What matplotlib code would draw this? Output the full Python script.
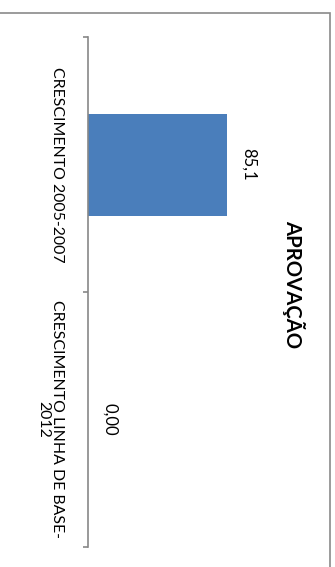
import matplotlib
matplotlib.use("Agg")
import matplotlib.pyplot as plt
from matplotlib.patches import Rectangle

categories = ["CRESCIMENTO 2005-2007", "CRESCIMENTO LINHA DE BASE-\n2012"]
values = [85.1, 0.0]
value_labels = ["85,1", "0,00"]
title = "APROVAÇÃO"

plt.rcParams["font.family"] = ["Lato", "DejaVu Sans"]

W, H = 335, 567
fig = plt.figure(figsize=(W / 100, H / 100), dpi=100)
fig.patch.set_facecolor("white")

# chart-area border (top and right visible)
fig.patches.append(Rectangle((-0.02, -0.02), 329.5 / W + 0.02, (H - 12.5) / H + 0.02,
                             transform=fig.transFigure, fill=False,
                             edgecolor="#8a8a8a", linewidth=1.2))

ax = fig.add_axes([88 / W, 20 / H, (251 - 88) / W, 510 / H])
pos = list(range(len(categories)))
ax.barh(pos, values, height=0.4, color="#4A7EBB")
ax.set_xlim(0, 100)
ax.set_ylim(len(categories) - 0.5, -0.5)

for s in ["top", "right", "bottom"]:
    ax.spines[s].set_visible(False)
ax.spines["left"].set_color("#878787")
ax.spines["left"].set_linewidth(1.2)
ax.set_xticks([])
ax.set_yticks(pos)
ax.set_yticklabels(categories, rotation=270, ha="right", va="center",
                   multialignment="center", linespacing=1.0, fontsize=11.4)
ax.set_yticks([p - 0.5 for p in pos] + [pos[-1] + 0.5], minor=True)
ax.tick_params(axis="y", which="major", length=0, pad=17)
ax.tick_params(axis="y", which="minor", length=3.5, width=1.2, color="#878787", direction="out")

for p, v, lbl in zip(pos, values, value_labels):
    ax.annotate(lbl, (v, p), xytext=(10, 0), textcoords="offset points",
                rotation=270, ha="left", va="center", fontsize=12)

fig.text(294 / W, 1 - 284 / H, title, rotation=270, ha="center", va="center",
         fontweight="bold", fontsize=14.6)

fig.savefig("out.png", dpi=100)
